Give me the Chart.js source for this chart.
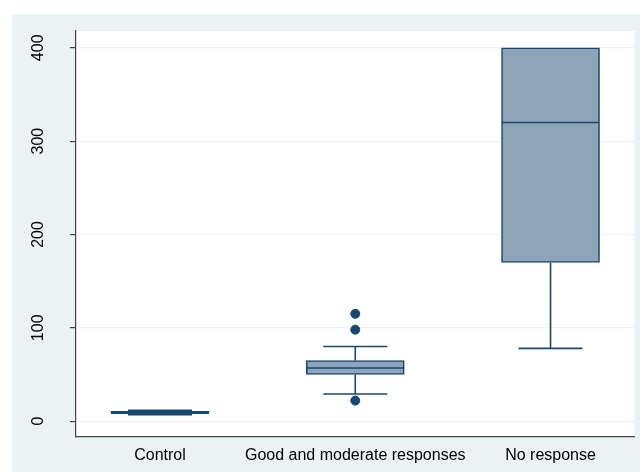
<!DOCTYPE html>
<html>
<head>
<meta charset="utf-8">
<script src="https://cdn.jsdelivr.net/npm/chart.js@4/dist/chart.umd.min.js"></script>
<style>
  html, body { margin: 0; padding: 0; background: #ffffff; }
  #wrap { width: 640px; height: 472px; }
</style>
</head>
<body>
<div id="wrap"><canvas id="c" width="640" height="472"></canvas></div>
<script>
// Groups and their box-plot summaries
const categories = ['Control', 'Good and moderate responses', 'No response'];
const whiskerLow  = [7, 29, 78];
const q1          = [8, 50, 170];
const median      = [9, 57, 320];
const q3          = [10.5, 65, 400];
const whiskerHigh = [11.5, 80, 400];

// Points beyond the whiskers: group position and value
const outlierGroup  = [2, 2, 2];
const outlierValues = [115, 98, 22];

// Y-axis tick values
const yTicks = [0, 100, 200, 300, 400];

const NAVY = '#1a476f';
const BOX_FILL = '#8ea4b8';
const PANEL = '#eaf2f3';
const FONT = '"Liberation Sans", Arial, sans-serif';
const BOX_PX = 98;
const CAP_PX = 64;

const positions = categories.map((_, i) => i + 1);

const backgroundPlugin = {
  id: 'panels',
  beforeDraw(chart) {
    const { ctx, chartArea: a } = chart;
    ctx.save();
    ctx.fillStyle = '#ffffff';
    ctx.fillRect(0, 0, chart.width, chart.height);
    ctx.fillStyle = PANEL;
    ctx.fillRect(12, 14, chart.width - 12, chart.height - 14);
    ctx.fillStyle = '#ffffff';
    ctx.fillRect(a.left, a.top, a.right - a.left, a.bottom - a.top);
    ctx.restore();
  }
};

// Whiskers, caps and median lines on top of the boxes
const boxPlugin = {
  id: 'boxParts',
  afterDatasetsDraw(chart) {
    const { ctx, scales: { x, y } } = chart;
    ctx.save();
    ctx.strokeStyle = NAVY;
    ctx.lineWidth = 1.6;
    positions.forEach((p, i) => {
      const cx = x.getPixelForValue(p);
      const yQ1 = y.getPixelForValue(q1[i]);
      const yQ3 = y.getPixelForValue(q3[i]);
      const yLo = y.getPixelForValue(whiskerLow[i]);
      const yHi = y.getPixelForValue(whiskerHigh[i]);
      const yMed = y.getPixelForValue(median[i]);
      ctx.beginPath();
      if (whiskerHigh[i] > q3[i]) {
        ctx.moveTo(cx, yQ3); ctx.lineTo(cx, yHi);
        ctx.moveTo(cx - CAP_PX / 2, yHi); ctx.lineTo(cx + CAP_PX / 2, yHi);
      }
      if (whiskerLow[i] < q1[i]) {
        ctx.moveTo(cx, yQ1); ctx.lineTo(cx, yLo);
        ctx.moveTo(cx - CAP_PX / 2, yLo); ctx.lineTo(cx + CAP_PX / 2, yLo);
      }
      ctx.moveTo(cx - BOX_PX / 2, yMed); ctx.lineTo(cx + BOX_PX / 2, yMed);
      ctx.stroke();
    });
    ctx.restore();
  }
};

// Rotated y tick labels
const yLabelPlugin = {
  id: 'yLabels',
  afterDraw(chart) {
    const { ctx, scales: { y } } = chart;
    ctx.save();
    ctx.fillStyle = '#000000';
    ctx.font = '16px ' + FONT;
    ctx.textAlign = 'center';
    ctx.textBaseline = 'middle';
    y.ticks.forEach(t => {
      const py = y.getPixelForValue(t.value);
      ctx.save();
      ctx.translate(39, py);
      ctx.rotate(-Math.PI / 2);
      ctx.fillText(String(t.value), 0, 0);
      ctx.restore();
    });
    ctx.restore();
  }
};

new Chart(document.getElementById('c'), {
  type: 'bar',
  data: {
    datasets: [
      {
        type: 'bar',
        data: positions.map((p, i) => ({ x: p, y: [q1[i], q3[i]] })),
        backgroundColor: BOX_FILL,
        borderColor: NAVY,
        borderWidth: 1.6,
        borderSkipped: false,
        barThickness: BOX_PX,
        grouped: false
      },
      {
        type: 'scatter',
        data: outlierGroup.map((g, i) => ({ x: g, y: outlierValues[i] })),
        backgroundColor: NAVY,
        borderColor: NAVY,
        pointRadius: 4.5,
        pointHoverRadius: 4.5,
        showLine: false
      }
    ]
  },
  options: {
    responsive: false,
    animation: false,
    devicePixelRatio: 1,
    layout: { padding: { left: 0, top: 31, right: 3, bottom: 0 } },
    plugins: { legend: { display: false }, tooltip: { enabled: false } },
    scales: {
      x: {
        type: 'linear',
        min: 0.57,
        max: 3.43,
        offset: false,
        afterBuildTicks(scale) { scale.ticks = positions.map(v => ({ value: v })); },
        afterFit(scale) { scale.height = 35; },
        grid: { display: false, drawTicks: false },
        border: { display: true, color: '#444444', width: 1.2 },
        ticks: {
          autoSkip: false,
          maxRotation: 0,
          padding: 9,
          color: '#000000',
          font: { family: FONT, size: 16 },
          callback: v => categories[v - 1] || ''
        }
      },
      y: {
        type: 'linear',
        min: -17,
        max: 418,
        afterBuildTicks(scale) { scale.ticks = yTicks.map(v => ({ value: v })); },
        afterFit(scale) { scale.width = 76; },
        grid: { color: PANEL, lineWidth: 1.2, tickLength: 6, tickColor: '#444444', drawTicks: true },
        border: { display: true, color: '#444444', width: 1.2 },
        ticks: { callback: () => '', padding: 0 }
      }
    }
  },
  plugins: [backgroundPlugin, boxPlugin, yLabelPlugin]
});
</script>
</body>
</html>
